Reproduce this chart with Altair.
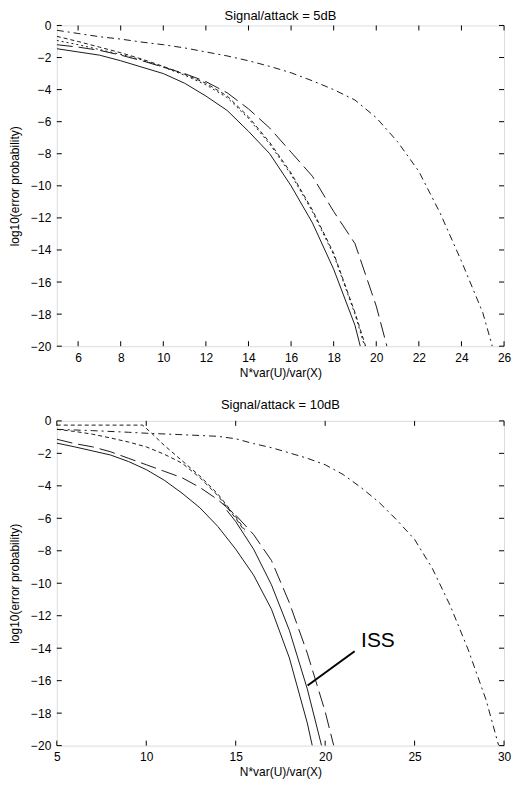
import altair as alt
import pandas as pd

FONT = "Liberation Sans"
INK = "#1a1a1a"
FS = 12
TFS = 13

# ---------------- top panel: Signal/attack = 5dB ----------------
top_x_dashdot = [5, 6, 7, 8, 9, 10, 11, 12, 13, 14, 15, 16, 17, 18, 19, 20, 21, 22, 23, 24, 25, 25.45]
top_y_dashdot = [-0.3, -0.5, -0.7, -0.85, -1.04, -1.2, -1.4, -1.65, -1.9, -2.2, -2.55, -2.95, -3.45, -4.0,
                 -4.65, -5.75, -7.25, -9.1, -11.7, -14.7, -17.9, -20]
top_x_short = [5, 6, 7, 8, 9, 10, 11, 12, 13, 14, 15, 16, 17, 18, 19, 19.5]
top_y_short = [-0.68, -1.0, -1.35, -1.7, -2.1, -2.55, -3.05, -3.6, -4.4, -5.7, -7.3, -9.2, -11.5, -14.2, -17.9, -20]
top_x_dot = [5, 6, 7, 8, 9, 10, 11, 12, 13, 14, 15, 16, 17, 18, 19, 19.45]
top_y_dot = [-0.93, -1.2, -1.5, -1.8, -2.15, -2.6, -3.1, -3.7, -4.5, -5.8, -7.4, -9.3, -11.6, -14.3, -18.0, -20]
top_x_long = [5, 6, 7, 8, 9, 10, 11, 12, 13, 14, 15, 16, 17, 18, 19, 20, 20.5]
top_y_long = [-1.2, -1.35, -1.55, -1.85, -2.2, -2.6, -3.0, -3.5, -4.2, -5.2, -6.4, -7.9, -9.4, -11.6, -13.6, -17.5, -20]
top_x_solid = [5, 6, 7, 8, 9, 10, 11, 12, 13, 14, 15, 16, 17, 18, 19, 19.25]
top_y_solid = [-1.45, -1.65, -1.85, -2.2, -2.6, -3.0, -3.6, -4.4, -5.3, -6.6, -8.0, -10.0, -12.3, -15.2, -18.7, -20]
top_xticks = [6, 8, 10, 12, 14, 16, 18, 20, 22, 24, 26]

# ---------------- bottom panel: Signal/attack = 10dB ----------------
bot_x_dashdot = [5, 7, 9, 10, 12, 14, 15, 16, 17, 18, 19, 20, 21, 22, 23, 24, 25, 26, 27, 28, 29, 29.7]
bot_y_dashdot = [-0.52, -0.6, -0.7, -0.76, -0.85, -0.95, -1.1, -1.4, -1.65, -1.97, -2.3, -2.7, -3.3, -4.1,
                 -5.0, -6.1, -7.3, -9.1, -11.4, -14.1, -17.2, -20]
bot_x_dot1 = [5, 9.8, 10.3, 11, 12, 13, 14, 15, 15.5]
bot_y_dot1 = [-0.26, -0.26, -0.76, -1.5, -2.45, -3.4, -4.5, -5.9, -6.7]
bot_x_dot2 = [5, 6, 7, 8, 9, 10, 11, 12, 13, 14, 15, 15.5]
bot_y_dot2 = [-0.52, -0.65, -0.82, -1.05, -1.3, -1.6, -2.05, -2.6, -3.5, -4.6, -6.0, -6.8]
bot_x_iss = [14.5, 15, 16, 17, 18, 19, 19.8]
bot_y_iss = [-5.5, -6.2, -7.9, -10.1, -12.9, -16.5, -20]
bot_x_long = [5, 6, 7, 8, 9, 10, 11, 12, 13, 14, 15, 16, 17, 18, 19, 20, 20.48]
bot_y_long = [-1.13, -1.4, -1.6, -1.9, -2.3, -2.7, -3.1, -3.5, -4.1, -4.85, -5.8, -7.0, -8.6, -11.2, -14.3, -17.9, -20]
bot_x_solid = [5, 6, 7, 8, 9, 10, 11, 12, 13, 14, 15, 16, 17, 18, 19, 19.28]
bot_y_solid = [-1.37, -1.6, -1.85, -2.1, -2.5, -3.0, -3.65, -4.45, -5.35, -6.5, -7.9, -9.5, -11.6, -14.6, -18.6, -20]
bot_xticks = [5, 10, 15, 20, 25, 30]

# ISS annotation (data coordinates)
iss_line_x = [19.02, 21.65]
iss_line_y = [-16.3, -14.19]
iss_label = ["ISS"]
iss_label_x = [22.95]
iss_label_y = [-13.55]

yticks = list(range(-20, 1, 2))

DASHDOT = [7, 4, 2, 4]
LONG = [16, 6]
SHORT = [4, 3]
DOT = [2, 3]


def panel(title, xdom, xticks, W, H, series, toff, annot=None):
    xs = alt.Scale(domain=xdom, nice=False, zero=False)
    ys = alt.Scale(domain=[-20, 0], nice=False, zero=False)
    xaxis = alt.Axis(title="N*var(U)/var(X)", values=xticks, ticks=False, domain=False, grid=False,
                     labelFont=FONT, labelFontSize=FS, labelColor="black", labelFlush=False,
                     labelPadding=6, titleFont=FONT, titleFontSize=FS, titleFontWeight="normal",
                     titleColor="black", titlePadding=4)
    yaxis = alt.Axis(title="log10(error probability)", values=yticks, ticks=False, domain=False, grid=False,
                     labelFont=FONT, labelFontSize=FS, labelColor="black", labelFlush=False,
                     labelPadding=6, titleFont=FONT, titleFontSize=FS, titleFontWeight="normal",
                     titleColor="black", titlePadding=9)
    X = lambda f="x:Q": alt.X(f, scale=xs, axis=xaxis)
    Y = lambda f="y:Q": alt.Y(f, scale=ys, axis=yaxis)
    layers = []
    for xv, yv, dash in series:
        df = pd.DataFrame({"x": xv, "y": yv})
        kw = dict(stroke=INK, strokeWidth=1, clip=True)
        if dash:
            kw["strokeDash"] = dash
        layers.append(alt.Chart(df).mark_line(**kw).encode(x=X(), y=Y()))
    tx = pd.DataFrame({"x": xticks})
    ty = pd.DataFrame({"y": yticks})
    layers.append(alt.Chart(tx).mark_rule(color="black", strokeWidth=1).encode(
        x=X(), y=alt.value(H), y2=alt.value(H - 5)))
    layers.append(alt.Chart(tx).mark_rule(color="black", strokeWidth=1).encode(
        x=X(), y=alt.value(0), y2=alt.value(5)))
    layers.append(alt.Chart(ty).mark_rule(color="black", strokeWidth=1).encode(
        y=Y(), x=alt.value(0), x2=alt.value(5)))
    layers.append(alt.Chart(ty).mark_rule(color="black", strokeWidth=1).encode(
        y=Y(), x=alt.value(W), x2=alt.value(W - 5)))
    if annot:
        ldf = pd.DataFrame({"x": [iss_line_x[0]], "x2": [iss_line_x[1]],
                            "y": [iss_line_y[0]], "y2": [iss_line_y[1]]})
        layers.append(alt.Chart(ldf).mark_rule(color="black", strokeWidth=2).encode(
            x=X(), x2="x2:Q", y=Y(), y2="y2:Q"))
        tdf = pd.DataFrame({"x": iss_label_x, "y": iss_label_y, "t": iss_label})
        layers.append(alt.Chart(tdf).mark_text(font=FONT, fontSize=21, color="black",
                                               align="center", baseline="middle").encode(
            x=X(), y=Y(), text="t:N"))
    return alt.layer(*layers).properties(
        width=W, height=H,
        title=alt.Title(title, font=FONT, fontSize=TFS, fontWeight="normal", color="black",
                        anchor="middle", offset=toff),
    )


top = panel("Signal/attack = 5dB", [5, 26], top_xticks, 449, 322, [
    (top_x_dashdot, top_y_dashdot, DASHDOT),
    (top_x_short, top_y_short, SHORT),
    (top_x_dot, top_y_dot, DOT),
    (top_x_long, top_y_long, LONG),
    (top_x_solid, top_y_solid, None),
], toff=-4)

bottom = panel("Signal/attack = 10dB", [5, 30], bot_xticks, 449, 326, [
    (bot_x_dashdot, bot_y_dashdot, DASHDOT),
    (bot_x_dot1, bot_y_dot1, SHORT),
    (bot_x_dot2, bot_y_dot2, SHORT),
    (bot_x_long, bot_y_long, LONG),
    (bot_x_iss, bot_y_iss, None),
    (bot_x_solid, bot_y_solid, None),
], toff=2.5, annot=True)

chart = alt.vconcat(top, bottom, spacing=20).properties(
    padding={"left": 0, "top": 0, "right": 0, "bottom": 0}
).configure_view(stroke="black", strokeWidth=1).configure(background="white")

chart.save("out.html", embed_options={"renderer": "svg", "actions": False})
